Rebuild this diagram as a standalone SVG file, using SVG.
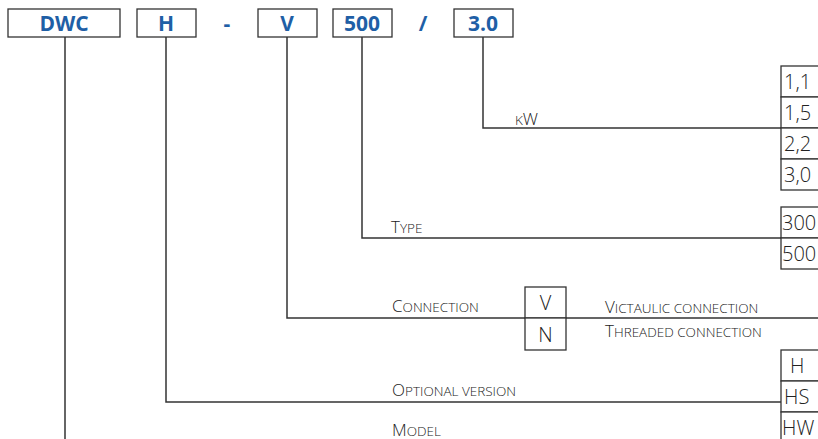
<svg xmlns="http://www.w3.org/2000/svg" width="818" height="439" viewBox="0 0 818 439">
<style>
.box{fill:#fff;stroke:#333;stroke-width:1.3}
.ln{fill:none;stroke:#333;stroke-width:1.5}
.code{font-family:"Open Sans","Noto Sans",sans-serif;font-weight:bold;font-size:21px;fill:#1f5fa6;text-anchor:middle}
.val{font-family:"Open Sans","Noto Sans",sans-serif;font-weight:300;font-size:20px;fill:#222}
.lab{font-family:"Open Sans","Noto Sans",sans-serif;font-weight:300;font-size:17px;fill:#222}
.sm{font-size:13.5px}
</style>
<rect width="818" height="439" fill="#fff"/>
<g id="connectors">
<path class="ln" d="M65,37V439"/>
<path class="ln" d="M166,37V402H781"/>
<path class="ln" d="M287,37V318H818"/>
<path class="ln" d="M362,37V238H781"/>
<path class="ln" d="M483,37V128H781"/>
</g>
<g id="code-dwc"><rect class="box" x="8" y="9" width="112" height="28"/><text class="code" x="64" y="31">DWC</text></g>
<g id="code-h"><rect class="box" x="137" y="9" width="59" height="28"/><text class="code" x="166" y="31">H</text></g>
<g id="sep-dash"><text class="code" x="227" y="31">-</text></g>
<g id="code-v"><rect class="box" x="258" y="9" width="59" height="28"/><text class="code" x="287" y="31">V</text></g>
<g id="code-500"><rect class="box" x="333" y="9" width="59" height="28"/><text class="code" x="362" y="31">500</text></g>
<g id="sep-slash"><text class="code" x="423" y="31">/</text></g>
<g id="code-30"><rect class="box" x="454" y="9" width="59" height="28"/><text class="code" x="483" y="31">3.0</text></g>
<g id="kw">
<text class="lab" x="515" y="125"><tspan class="sm">K</tspan>W</text>
<rect class="box" x="781" y="66" width="50" height="31"/><text class="val" x="784" y="89">1,1</text>
<rect class="box" x="781" y="97" width="50" height="31"/><text class="val" x="784" y="120">1,5</text>
<rect class="box" x="781" y="128" width="50" height="31"/><text class="val" x="784" y="151">2,2</text>
<rect class="box" x="781" y="159" width="50" height="31"/><text class="val" x="784" y="182">3,0</text>
</g>
<g id="type">
<text class="lab" x="391" y="233">T<tspan class="sm">YPE</tspan></text>
<rect class="box" x="781" y="207" width="50" height="31"/><text class="val" x="782" y="230">300</text>
<rect class="box" x="781" y="238" width="50" height="31"/><text class="val" x="782" y="261">500</text>
</g>
<g id="connection">
<text class="lab" x="392" y="312">C<tspan class="sm">ONNECTION</tspan></text>
<rect class="box" x="525" y="287" width="41" height="31"/><text class="val" x="545.5" y="310" text-anchor="middle">V</text>
<rect class="box" x="525" y="318" width="41" height="32"/><text class="val" x="545.5" y="342" text-anchor="middle">N</text>
<text class="lab" x="605" y="313">V<tspan class="sm">ICTAULIC CONNECTION</tspan></text>
<text class="lab" x="605" y="337">T<tspan class="sm">HREADED CONNECTION</tspan></text>
</g>
<g id="optional">
<text class="lab" x="392" y="396">O<tspan class="sm">PTIONAL VERSION</tspan></text>
<rect class="box" x="781" y="350" width="50" height="31"/><text class="val" x="790" y="373">H</text>
<rect class="box" x="781" y="381" width="50" height="31"/><text class="val" x="784" y="404">HS</text>
<rect class="box" x="781" y="412" width="50" height="31"/><text class="val" x="782" y="435">HW</text>
</g>
<g id="model">
<text class="lab" x="392" y="436">M<tspan class="sm">ODEL</tspan></text>
</g>
</svg>
